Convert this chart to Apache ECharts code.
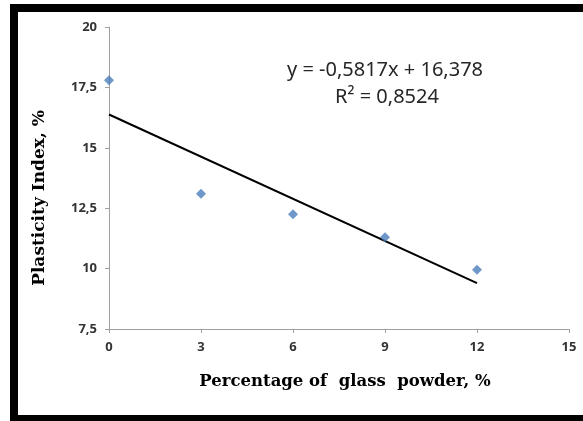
<!DOCTYPE html>
<html>
<head>
<meta charset="utf-8">
<script src="https://cdn.jsdelivr.net/npm/echarts@6/dist/echarts.min.js"></script>
<style>
html,body{margin:0;padding:0;background:#fff;}
#chart{width:583px;height:421px;}
</style>
</head>
<body>
<div id="chart"></div>
<script>
var glassPowder = [0, 3, 6, 9, 12];
var plasticityIndex = [17.8, 13.1, 12.25, 11.3, 9.95];
var trendX = [0, 12];
var trendY = [16.378, 9.398];
var equationText = 'y = -0,5817x + 16,378';
var r2Text = 'R² = 0,8524';
var xTitle = 'Percentage of  glass  powder, %';
var yTitle = 'Plasticity Index, %';

var chart = echarts.init(document.getElementById('chart'), null, {renderer: 'canvas'});
var pts = glassPowder.map(function (x, i) { return [x, plasticityIndex[i]]; });
var trend = trendX.map(function (x, i) { return [x, trendY[i]]; });
function comma(v) { return String(v).replace('.', ','); }

chart.setOption({
  animation: false,
  backgroundColor: '#fff',
  grid: {left: 109, right: 14, top: 27, bottom: 92},
  xAxis: {
    type: 'value', min: 0, max: 15, interval: 3,
    axisLine: {show: true, lineStyle: {color: '#a0a0a0', width: 1}},
    axisTick: {show: true, inside: false, length: 4, lineStyle: {color: '#a0a0a0'}},
    splitLine: {show: false},
    axisLabel: {margin: 12, color: '#333', fontSize: 13, fontWeight: 'bold', fontFamily: 'Open Sans', formatter: comma}
  },
  yAxis: {
    type: 'value', min: 7.5, max: 20, interval: 2.5,
    axisLine: {show: true, lineStyle: {color: '#a0a0a0', width: 1}},
    axisTick: {show: true, inside: false, length: 4, lineStyle: {color: '#a0a0a0'}},
    splitLine: {show: false},
    axisLabel: {margin: 12, color: '#333', fontSize: 13, fontWeight: 'bold', fontFamily: 'Open Sans', formatter: comma}
  },
  series: [
    {
      type: 'line', data: trend, symbol: 'none',
      lineStyle: {color: '#000', width: 2}, z: 2
    },
    {
      type: 'scatter', data: pts, symbol: 'diamond', symbolSize: 10,
      itemStyle: {color: '#4a7ebb'}, z: 3
    }
  ],
  graphic: [
    {type: 'rect', shape: {x: 10, y: 4, width: 573, height: 8}, style: {fill: '#000'}},
    {type: 'rect', shape: {x: 10, y: 4, width: 8, height: 417}, style: {fill: '#000'}},
    {type: 'rect', shape: {x: 10, y: 415, width: 573, height: 6}, style: {fill: '#000'}},
    {type: 'text', x: 385, y: 70, style: {text: equationText, fill: '#262626', font: '20px "Noto Sans"', textAlign: 'center', textVerticalAlign: 'middle'}},
    {type: 'text', x: 387, y: 97, style: {text: r2Text, fill: '#262626', font: '20px "Noto Sans"', textAlign: 'center', textVerticalAlign: 'middle'}},
    {type: 'text', x: 345, y: 382, style: {text: xTitle, fill: '#000', font: 'bold 16.5px "DejaVu Serif"', textAlign: 'center', textVerticalAlign: 'middle'}},
    {type: 'text', x: 40, y: 198, rotation: Math.PI / 2, style: {text: yTitle, fill: '#000', font: 'bold 17px "DejaVu Serif"', textAlign: 'center', textVerticalAlign: 'middle'}}
  ]
});
</script>
</body>
</html>
